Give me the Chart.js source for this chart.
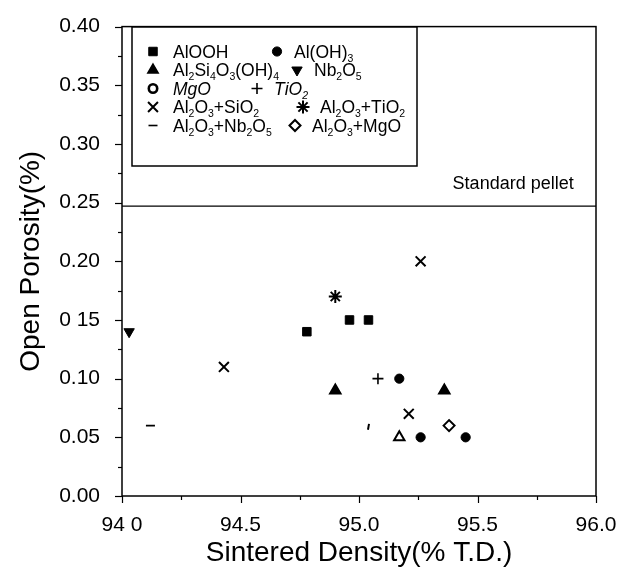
<!DOCTYPE html>
<html>
<head>
<meta charset="utf-8">
<script src="https://cdn.jsdelivr.net/npm/chart.js@4/dist/chart.umd.min.js"></script>
<style>
html,body{margin:0;padding:0;background:#fff;}
#wrap{width:636px;height:573px;position:relative;}
</style>
</head>
<body>
<div id="wrap"><canvas id="c" width="636" height="573"></canvas></div>
<script>
// ---- data ----
const xTickLabels = ['94 0', '94.5', '95.0', '95.5', '96.0'];
const yTickLabels = ['0.00', '0.05', '0.10', '0 15', '0.20', '0.25', '0.30', '0.35', '0.40'];

const seriesNames = ['AlOOH', 'Al(OH)_3', 'Al_2Si_4O_3(OH)_4', 'Nb_2O_5', 'MgO', 'TiO_2',
  'Al_2O_3+SiO_2', 'Al_2O_3+TiO_2', 'Al_2O_3+Nb_2O_5', 'Al_2O_3+MgO'];

const alooh_x = [94.78, 94.96, 95.04];
const alooh_y = [0.14, 0.15, 0.15];
const aloh3_x = [95.17, 95.26, 95.45];
const aloh3_y = [0.10, 0.05, 0.05];
const kaol_x = [94.90, 95.36, 95.17];
const kaol_y = [0.09, 0.09, 0.05];
const nb2o5_x = [94.03];
const nb2o5_y = [0.14];
const mgo_x = [95.04];
const mgo_y = [0.059];
const tio2_x = [95.08];
const tio2_y = [0.10];
const alsio_x = [94.43, 95.26, 95.21];
const alsio_y = [0.11, 0.20, 0.07];
const altio_x = [94.90];
const altio_y = [0.17];
const alnb_x = [94.12];
const alnb_y = [0.06];
const almgo_x = [95.38];
const almgo_y = [0.06];

const standardPellet = 0.247;
const standardLabel = 'Standard pellet';

const xTitle = 'Sintered Density(% T.D.)';
const yTitle = 'Open Porosity(%)';

// ---- helpers ----
const pts = (xs, ys) => xs.map((x, i) => ({x: x, y: ys[i]}));
const FONT = "'Liberation Sans', Arial, Helvetica, sans-serif";

function mk(label, xs, ys, style) {
  return Object.assign({
    type: 'scatter', label: label, data: pts(xs, ys),
    borderColor: '#000', backgroundColor: '#000',
    pointBorderColor: '#000', pointBackgroundColor: '#000'
  }, style);
}

const styles = [
  {pointStyle: 'rect', pointRadius: 6, pointBorderWidth: 1},
  {pointStyle: 'circle', pointRadius: 4.6, pointBorderWidth: 1},
  {pointStyle: 'triangle', pointRadius: 6, pointBorderWidth: 1.5},
  {pointStyle: 'triangle', pointRotation: 180, pointRadius: 6, pointBorderWidth: 1},
  {pointStyle: 'circle', pointRadius: 4.2, pointBorderWidth: 2.6, pointBackgroundColor: '#fff'},
  {pointStyle: 'cross', pointRadius: 5.5, pointBorderWidth: 1.6},
  {pointStyle: 'crossRot', pointRadius: 7, pointBorderWidth: 2},
  {pointStyle: 'star', pointRadius: 6.5, pointBorderWidth: 2},
  {pointStyle: 'line', pointRadius: 4.5, pointBorderWidth: 1.6},
  {pointStyle: 'rectRot', pointRadius: 5.5, pointBorderWidth: 2, pointBackgroundColor: '#fff'}
];

const plotStyles = styles.map(s => Object.assign({}, s));
plotStyles[2] = Object.assign({}, styles[2], {pointBackgroundColor: ['#000', '#000', '#fff'], pointBorderWidth: 2});
plotStyles[4] = {pointStyle: 'line', pointRotation: 100, pointRadius: 3, pointBorderWidth: 2};

const xsList = [alooh_x, aloh3_x, kaol_x, nb2o5_x, mgo_x, tio2_x, alsio_x, altio_x, alnb_x, almgo_x];
const ysList = [alooh_y, aloh3_y, kaol_y, nb2o5_y, mgo_y, tio2_y, alsio_y, altio_y, alnb_y, almgo_y];

const datasets = seriesNames.map((n, i) => mk(n.replace(/_/g, ''), xsList[i], ysList[i], plotStyles[i]));
datasets.push({
  type: 'line', label: standardLabel,
  data: [{x: 94, y: standardPellet}, {x: 96, y: standardPellet}],
  borderColor: '#000', borderWidth: 1.3, pointRadius: 0, fill: false
});

// legend layout (pixels)
const LEG_FONT = 17.5;
const legendBox = {x: 132, y: 27, w: 285, h: 139};
const legendRows = [51.5, 70, 88.5, 107, 125.5];
const legendPairs = [[0, 1], [2, 3], [4, 5], [6, 7], [8, 9]];
const legendItalic = [false, false, false, false, true, true, false, false, false, false];
const col1Marker = 153, col1Text = 173;
const col2Marker = [277, 297, 257, 303, 295];

function drawRich(ctx, text, x, baseY, size, italic) {
  let cx = x;
  const main = (italic ? 'italic ' : '') + size + 'px ' + FONT;
  const sub = (italic ? 'italic ' : '') + (size * 0.6).toFixed(1) + 'px ' + FONT;
  for (let i = 0; i < text.length; i++) {
    let ch = text[i];
    if (ch === '_' && i + 1 < text.length) {
      ch = text[++i];
      ctx.font = sub;
      ctx.fillText(ch, cx, baseY + size * 0.25);
    } else {
      ctx.font = main;
      ctx.fillText(ch, cx, baseY);
    }
    cx += ctx.measureText(ch).width;
  }
  return cx;
}

function drawMarker(ctx, st, x, y) {
  ctx.save();
  ctx.fillStyle = st.pointBackgroundColor || '#000';
  ctx.strokeStyle = '#000';
  ctx.lineWidth = st.pointBorderWidth || 1;
  Chart.helpers.drawPoint(ctx, {
    pointStyle: st.pointStyle, rotation: st.pointRotation || 0,
    radius: st.pointRadius, borderWidth: st.pointBorderWidth || 1
  }, x, y);
  ctx.restore();
}

const framePlugin = {
  id: 'frame',
  afterDraw(chart) {
    const ctx = chart.ctx;
    const a = chart.chartArea;
    const xs = chart.scales.x, ys = chart.scales.y;
    ctx.save();
    ctx.strokeStyle = '#000';
    ctx.lineWidth = 1.5;
    ctx.strokeRect(a.left, a.top, a.right - a.left, a.bottom - a.top);
    ctx.lineWidth = 1.2;
    for (let v = xs.min, k = 0; v <= xs.max + 1e-9; v += 0.25, k++) {
      const px = Math.round(xs.getPixelForValue(v)) + 0.5;
      const len = (k % 2 === 0) ? 7 : 4;
      ctx.beginPath(); ctx.moveTo(px, a.bottom); ctx.lineTo(px, a.bottom + len); ctx.stroke();
    }
    for (let v = ys.min, k = 0; v <= ys.max + 1e-9; v += 0.025, k++) {
      const py = Math.round(ys.getPixelForValue(v)) + 0.5;
      const len = (k % 2 === 0) ? 7 : 4;
      ctx.beginPath(); ctx.moveTo(a.left, py); ctx.lineTo(a.left - len, py); ctx.stroke();
    }
    // standard pellet label
    ctx.fillStyle = '#000';
    ctx.font = '18px ' + FONT;
    ctx.textBaseline = 'alphabetic';
    ctx.textAlign = 'left';
    ctx.fillText(standardLabel, xs.getPixelForValue(95.395), ys.getPixelForValue(standardPellet) - 17);

    // legend
    ctx.fillStyle = '#fff';
    ctx.fillRect(legendBox.x, legendBox.y, legendBox.w, legendBox.h);
    ctx.strokeStyle = '#000';
    ctx.lineWidth = 1.5;
    ctx.strokeRect(legendBox.x, legendBox.y, legendBox.w, legendBox.h);
    legendPairs.forEach(([a1, a2], r) => {
      const y = legendRows[r];
      drawMarker(ctx, styles[a1], col1Marker, y);
      ctx.fillStyle = '#000';
      drawRich(ctx, seriesNames[a1], col1Text, y + 6, LEG_FONT, legendItalic[a1]);
      drawMarker(ctx, styles[a2], col2Marker[r], y);
      ctx.fillStyle = '#000';
      drawRich(ctx, seriesNames[a2], col2Marker[r] + 17, y + 6, LEG_FONT, legendItalic[a2]);
    });
    ctx.restore();
  }
};

new Chart(document.getElementById('c'), {
  data: {datasets: datasets},
  plugins: [framePlugin],
  options: {
    responsive: false,
    animation: false,
    devicePixelRatio: 1,
    layout: {padding: {left: 0, right: 40, top: 20, bottom: 0}},
    plugins: {legend: {display: false}, tooltip: {enabled: false}},
    scales: {
      x: {
        type: 'linear', min: 94, max: 96,
        afterFit(s) { s.height = 77; },
        grid: {display: false},
        border: {display: false},
        ticks: {
          stepSize: 0.5, autoSkip: false, maxRotation: 0, padding: 9,
          color: '#000', font: {family: FONT, size: 21},
          callback: (v, i) => xTickLabels[i]
        },
        title: {display: true, text: xTitle, color: '#000',
          font: {family: FONT, size: 28}, padding: {top: 0, bottom: 3}}
      },
      y: {
        type: 'linear', min: 0, max: 0.4,
        afterFit(s) { s.width = 122; },
        grid: {display: false},
        border: {display: false},
        ticks: {
          stepSize: 0.05, autoSkip: false, padding: 14,
          color: '#000', font: {family: FONT, size: 21},
          callback: (v, i) => yTickLabels[i]
        },
        title: {display: true, text: yTitle, color: '#000',
          font: {family: FONT, size: 28}, padding: {top: 14, bottom: 0}}
      }
    }
  }
});
</script>
</body>
</html>
